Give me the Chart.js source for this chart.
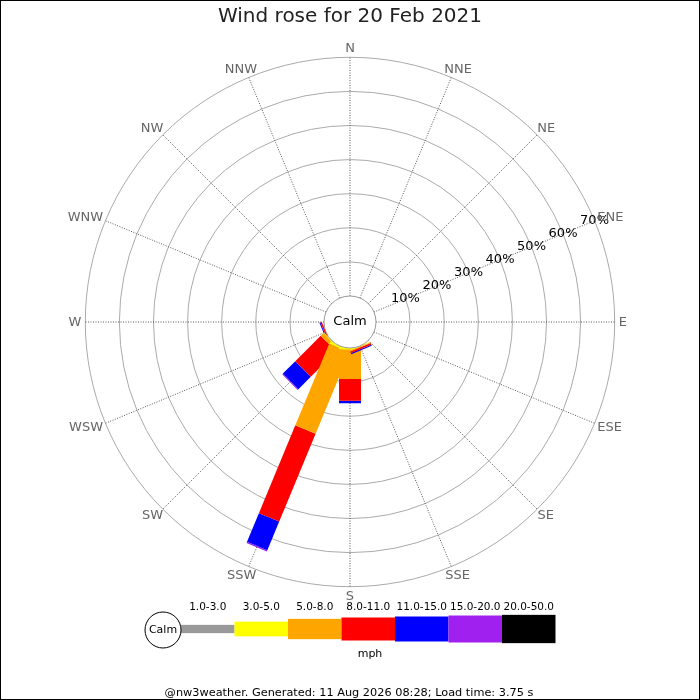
<!DOCTYPE html>
<html>
<head>
<meta charset="utf-8">
<script src="https://cdn.jsdelivr.net/npm/chart.js@4.4.1/dist/chart.umd.min.js"></script>
<style>
    html, body { margin: 0; padding: 0; background: #fff; }
    #wrap { width: 700px; height: 700px; position: relative; }
</style>
</head>
<body>
<div id="wrap"><canvas id="windRose"></canvas></div>
<script>
// ========== DADOS ==========
const DIRECTIONS = ['N', 'NNE', 'NE', 'ENE', 'E', 'ESE', 'SE', 'SSE',
                    'S', 'SSW', 'SW', 'WSW', 'W', 'WNW', 'NW', 'NNW'];
const SPEED_BINS = ['1.0-3.0', '3.0-5.0', '5.0-8.0', '8.0-11.0', '11.0-15.0', '15.0-20.0', '20.0-50.0'];
const BIN_COLORS = ['#999999', '#ffff00', '#ffa500', '#ff0000', '#0000ff', '#a020f0', '#000000'];

// % do tempo por direção (N ... NNW), uma lista por faixa de velocidade
const SPEED_1_3   = [0, 0, 0, 0, 0, 0, 0, 0,    0,    0,    0,     0,    0, 0, 0, 0];
const SPEED_3_5   = [0, 0, 0, 0, 0, 0, 0, 0.1,  0.4,  0.5,  0.3,   0,    0, 0, 0, 0];
const SPEED_5_8   = [0, 0, 0, 0, 0, 0, 0, 0.3,  8.7,  26.0, 1.0,   0,    0, 0, 0, 0];
const SPEED_8_11  = [0, 0, 0, 0, 0, 0, 0, 0.5,  6.4,  27.9, 10.55, 0.45, 0, 0, 0, 0];
const SPEED_11_15 = [0, 0, 0, 0, 0, 0, 0, 0.35, 0.7,  9.1,  5.15,  0.3,  0, 0, 0, 0];
const SPEED_15_20 = [0, 0, 0, 0, 0, 0, 0, 0,    0,    0.4,  0.3,   0,    0, 0, 0, 0];
const SPEED_20_50 = [0, 0, 0, 0, 0, 0, 0, 0,    0,    0,    0,     0,    0, 0, 0, 0];
const SERIES = [SPEED_1_3, SPEED_3_5, SPEED_5_8, SPEED_8_11, SPEED_11_15, SPEED_15_20, SPEED_20_50];

const RING_TICKS = [10, 20, 30, 40, 50, 60, 70];
const TITLE_TEXT = 'Wind rose for 20 Feb 2021';
const UNIT_LABEL = 'mph';
const CALM_LABEL = 'Calm';
const FOOTER_TEXT = '@nw3weather. Generated: 11 Aug 2026 08:28; Load time: 3.75 s';

// ========== GEOMETRIA ==========
const PX_PER_UNIT = 3.41;         // pixels por 1%
const CALM_R = 26 / PX_PER_UNIT;  // raio do círculo "Calm" em unidades de %
const BAR_W = 22 / PX_PER_UNIT;   // largura da barra em unidades de %
const FONT = '"DejaVu Sans", Verdana, sans-serif';

function dirAngle(i) { return i * Math.PI / 8; }

// ponto no plano (unidades de %) para direção, raio e deslocamento lateral
function polarPoint(theta, r, s) {
    return {
        x: Math.sin(theta) * r + Math.cos(theta) * s,
        y: Math.cos(theta) * r - Math.sin(theta) * s
    };
}

// um dataset (retângulo preenchido) por direção e faixa de velocidade
function buildDatasets() {
    const sets = [];
    DIRECTIONS.forEach((dir, i) => {
        const theta = dirAngle(i);
        let acc = 0;
        SERIES.forEach((values, b) => {
            const v = values[i];
            if (!v) return;
            const r0 = CALM_R + acc;
            const r1 = CALM_R + acc + v;
            acc += v;
            const h = BAR_W / 2;
            sets.push({
                label: dir + ' ' + SPEED_BINS[b],
                data: [
                    polarPoint(theta, r0, -h),
                    polarPoint(theta, r1, -h),
                    polarPoint(theta, r1, h),
                    polarPoint(theta, r0, h),
                    polarPoint(theta, r0, -h)
                ],
                showLine: true,
                fill: 'shape',
                backgroundColor: BIN_COLORS[b],
                borderColor: BIN_COLORS[b],
                borderWidth: 0,
                pointRadius: 0,
                tension: 0
            });
        });
    });
    return sets;
}

// ========== PLUGIN: GRADE, RÓTULOS, LEGENDA ==========
const roseDecor = {
    id: 'roseDecor',
    beforeDatasetsDraw(chart) {
        const ctx = chart.ctx;
        const xs = chart.scales.x, ys = chart.scales.y;
        const cx = xs.getPixelForValue(0), cy = ys.getPixelForValue(0);
        const k = xs.getPixelForValue(1) - cx;
        const outer = (CALM_R + RING_TICKS[RING_TICKS.length - 1]) * k;
        const inner = CALM_R * k;
        ctx.save();
        // anéis
        ctx.strokeStyle = '#aaaaaa';
        ctx.lineWidth = 1;
        RING_TICKS.forEach(t => {
            ctx.beginPath();
            ctx.arc(cx, cy, (CALM_R + t) * k, 0, Math.PI * 2);
            ctx.stroke();
        });
        // raios pontilhados
        ctx.strokeStyle = '#555555';
        ctx.setLineDash([1, 1.5]);
        DIRECTIONS.forEach((d, i) => {
            const a = dirAngle(i);
            ctx.beginPath();
            ctx.moveTo(cx + Math.sin(a) * inner, cy - Math.cos(a) * inner);
            ctx.lineTo(cx + Math.sin(a) * outer, cy - Math.cos(a) * outer);
            ctx.stroke();
        });
        ctx.restore();
    },
    afterDatasetsDraw(chart) {
        const ctx = chart.ctx;
        const xs = chart.scales.x, ys = chart.scales.y;
        const cx = xs.getPixelForValue(0), cy = ys.getPixelForValue(0);
        const k = xs.getPixelForValue(1) - cx;
        const outer = (CALM_R + RING_TICKS[RING_TICKS.length - 1]) * k;
        ctx.save();
        // círculo Calm
        ctx.strokeStyle = '#999999';
        ctx.lineWidth = 1;
        ctx.beginPath();
        ctx.arc(cx, cy, CALM_R * k, 0, Math.PI * 2);
        ctx.stroke();
        ctx.fillStyle = '#000';
        ctx.font = '13px ' + FONT;
        ctx.textAlign = 'center';
        ctx.textBaseline = 'middle';
        ctx.fillText(CALM_LABEL, cx, cy);

        // rótulos de percentagem ao longo de ENE
        const la = dirAngle(3);
        RING_TICKS.forEach(t => {
            const r = (CALM_R + t) * k;
            ctx.fillText(t + '%', cx + Math.sin(la) * r, cy - Math.cos(la) * r);
        });

        // rótulos de direção, fora do anel externo
        ctx.fillStyle = '#666666';
        const rl = outer + 4;
        const capH = 10;
        DIRECTIONS.forEach((d, i) => {
            const a = dirAngle(i);
            const sx = Math.sin(a), cv = Math.cos(a);
            const w = ctx.measureText(d).width;
            const tx = cx + sx * rl + sx * w / 2;
            const ty = cy - cv * rl - cv * capH / 2;
            ctx.fillText(d, tx, ty + 0.5);
        });
        ctx.restore();
    },
    afterDraw(chart) {
        const ctx = chart.ctx;
        const W = chart.width, H = chart.height;
        ctx.save();
        // título
        ctx.fillStyle = '#222';
        ctx.font = '20px ' + FONT;
        ctx.textAlign = 'center';
        ctx.textBaseline = 'middle';
        ctx.fillText(TITLE_TEXT, W / 2, 17);

        // legenda de velocidades
        const lx = 181, segW = 53.5, ly = 629;
        const heights = [8.3, 14.7, 20.3, 23, 25, 27, 28.3];
        SPEED_BINS.forEach((lab, b) => {
            const x0 = lx + b * segW;
            ctx.fillStyle = BIN_COLORS[b];
            ctx.fillRect(x0, ly - heights[b] / 2, segW, heights[b]);
            ctx.fillStyle = '#000';
            ctx.font = '10.5px ' + FONT;
            ctx.fillText(lab, x0 + segW / 2, 607);
        });
        ctx.fillStyle = '#fff';
        ctx.strokeStyle = '#000';
        ctx.lineWidth = 1;
        ctx.beginPath();
        ctx.arc(163, 630, 18, 0, Math.PI * 2);
        ctx.fill();
        ctx.stroke();
        ctx.fillStyle = '#000';
        ctx.font = '11px ' + FONT;
        ctx.fillText(CALM_LABEL, 163, 630);
        ctx.fillText(UNIT_LABEL, 370, 654);

        // rodapé
        ctx.font = '11.3px ' + FONT;
        ctx.fillText(FOOTER_TEXT, 349, 693);

        // moldura
        ctx.strokeStyle = '#000';
        ctx.strokeRect(0.5, 0.5, W - 1, H - 1);
        ctx.restore();
    }
};

new Chart(document.getElementById('windRose'), {
    type: 'scatter',
    data: { datasets: buildDatasets() },
    options: {
        responsive: true,
        maintainAspectRatio: false,
        animation: false,
        events: [],
        layout: { padding: 0 },
        scales: {
            x: { type: 'linear', display: false, min: -350 / PX_PER_UNIT, max: 350 / PX_PER_UNIT },
            y: { type: 'linear', display: false, min: -378 / PX_PER_UNIT, max: 322 / PX_PER_UNIT }
        },
        plugins: {
            legend: { display: false },
            title: { display: false },
            tooltip: { enabled: false }
        }
    },
    plugins: [roseDecor]
});
</script>
</body>
</html>
